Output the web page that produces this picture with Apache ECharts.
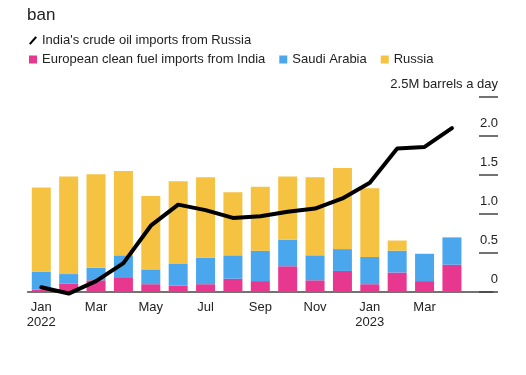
<!DOCTYPE html>
<html>
<head>
<meta charset="utf-8">
<script src="https://cdn.jsdelivr.net/npm/echarts@6/dist/echarts.min.js"></script>
<style>
  html, body { margin: 0; padding: 0; background: #fff; }
  #main { width: 526px; height: 375px; }
</style>
</head>
<body>
<div id="main"></div>
<script>
// months Jan 2022 .. Apr 2023, plus one empty slot on the right
const months = ['Jan\n2022', 'Feb', 'Mar', 'Apr', 'May', 'Jun', 'Jul', 'Aug', 'Sep', 'Oct', 'Nov', 'Dec', 'Jan\n2023', 'Feb', 'Mar', 'Apr', ''];
// M barrels a day
const europeFromIndia = [0.03, 0.11, 0.15, 0.19, 0.10, 0.08, 0.10, 0.17, 0.14, 0.33, 0.15, 0.27, 0.10, 0.25, 0.14, 0.35, null];
const saudiArabia = [0.23, 0.12, 0.16, 0.28, 0.19, 0.28, 0.34, 0.30, 0.39, 0.34, 0.32, 0.28, 0.35, 0.28, 0.35, 0.35, null];
const russia = [1.08, 1.25, 1.20, 1.08, 0.94, 1.06, 1.03, 0.81, 0.82, 0.81, 1.00, 1.04, 0.88, 0.13, 0, 0, null];
const indiaFromRussia = [0.06, -0.02, 0.14, 0.37, 0.85, 1.12, 1.05, 0.95, 0.97, 1.03, 1.07, 1.20, 1.40, 1.84, 1.86, 2.10, null];
const yTicks = [0, 0.5, 1.0, 1.5, 2.0, 2.5];

const font = 'Liberation Sans, Arial, sans-serif';
const txt = '#222';

const chart = echarts.init(document.getElementById('main'));

let option = {
  animation: false,
  textStyle: { fontFamily: font },
  title: {
    text: 'ban',
    left: 22,
    top: 2,
    textStyle: { fontSize: 17, fontWeight: 'normal', color: txt, fontFamily: font }
  },
  legend: [
    {
      data: [{ name: "India's crude oil imports from Russia", icon: 'path://M0,9 L8,0 L10,1.6 L2,10.6 Z' }],
      left: 24,
      top: 29,
      itemWidth: 8,
      itemHeight: 10,
      textStyle: { fontSize: 13, color: txt }
    },
    {
      data: ['European clean fuel imports from India', 'Saudi Arabia', 'Russia'],
      left: 24,
      top: 48,
      icon: 'rect',
      itemWidth: 8,
      itemHeight: 8,
      itemGap: 14,
      textStyle: { fontSize: 13, color: txt }
    }
  ],
  grid: {
    left: 27.6,
    right: 33,
    top: 97,
    bottom: 83
  },
  xAxis: {
    type: 'category',
    data: months,
    axisLine: { lineStyle: { color: '#444', width: 1.5 } },
    axisTick: { alignWithLabel: true, interval: 1, length: 5, lineStyle: { color: '#444' } },
    axisLabel: { interval: 1, fontSize: 13, lineHeight: 15, color: txt, margin: 8 }
  },
  yAxis: {
    type: 'value',
    position: 'right',
    offset: 5,
    min: 0,
    max: 2.5,
    interval: 0.5,
    splitLine: { show: false },
    axisLine: { show: false },
    axisTick: { show: true, inside: true, length: 19, lineStyle: { color: '#444', width: 1.5 } },
    axisLabel: {
      inside: true,
      margin: 0,
      fontSize: 13,
      color: txt,
      verticalAlign: 'bottom',
      padding: [0, 0, 6, 0],
      formatter: function (v) {
        if (v === 2.5) return '2.5M barrels a day';
        if (v === 0) return '0';
        return v.toFixed(1);
      }
    }
  },
  series: [
    {
      name: 'European clean fuel imports from India',
      type: 'bar',
      stack: 'imports',
      barWidth: 19,
      itemStyle: { color: '#e8378f' },
      data: europeFromIndia
    },
    {
      name: 'Saudi Arabia',
      type: 'bar',
      stack: 'imports',
      itemStyle: { color: '#4aa7ee' },
      data: saudiArabia
    },
    {
      name: 'Russia',
      type: 'bar',
      stack: 'imports',
      itemStyle: { color: '#f5c241' },
      data: russia
    },
    {
      name: "India's crude oil imports from Russia",
      type: 'line',
      clip: false,
      symbol: 'none',
      itemStyle: { color: '#000' },
      lineStyle: { color: '#000', width: 4, join: 'round', cap: 'round' },
      data: indiaFromRussia,
      z: 5
    }
  ]
};

chart.setOption(option);
</script>
</body>
</html>
